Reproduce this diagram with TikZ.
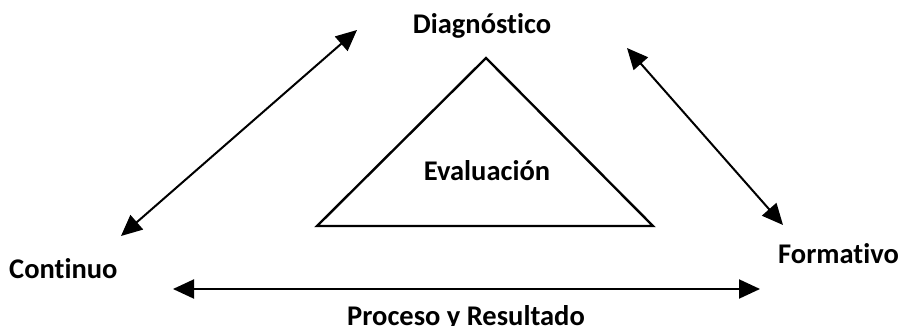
\documentclass[tikz,border=0pt]{standalone}
\usepackage{fontspec}
\setmainfont{Carlito}[Ligatures=NoCommon]
\usetikzlibrary{arrows.meta}
\tikzset{
  lbl/.style={font=\fontsize{28.5}{31}\selectfont\bfseries, inner sep=0pt, anchor=base},
  dbl/.style={line width=2pt, {Triangle[length=21pt,width=19pt]}-{Triangle[length=21pt,width=19pt]}},
  tri/.style={line width=2.4pt, line join=miter}
}
\begin{document}
\begin{tikzpicture}[x=1pt,y=-1pt]
\useasboundingbox (0,0) rectangle (904,326);
\clip (0,0) rectangle (904,326);
\fill[white] (0,0) rectangle (904,326);
% triangle
\coordinate (apex) at (486,58);
\coordinate (bl) at (317,226);
\coordinate (br) at (653,226);
\draw[tri] (apex) -- (br) -- (bl) -- cycle;
% labels
\node[lbl] (diag) at (482,34) {Diagnóstico};
\node[lbl] (eval) at (487,180) {Evaluación};
\node[lbl, anchor=base west] (cont) at (9,278) {Continuo};
\node[lbl, anchor=base west] (form) at (778,263) {Formativo};
\node[lbl] (proc) at (466,325) {Proceso y Resultado};
% arrow ends
\coordinate (l1) at (121,236);
\coordinate (l2) at (357,30);
\coordinate (r1) at (627,48);
\coordinate (r2) at (783,225);
\coordinate (b1) at (173,289);
\coordinate (b2) at (760,289);
\draw[dbl] (l1) -- (l2);
\draw[dbl] (r1) -- (r2);
\draw[dbl] (b1) -- (b2);
\end{tikzpicture}
\end{document}
